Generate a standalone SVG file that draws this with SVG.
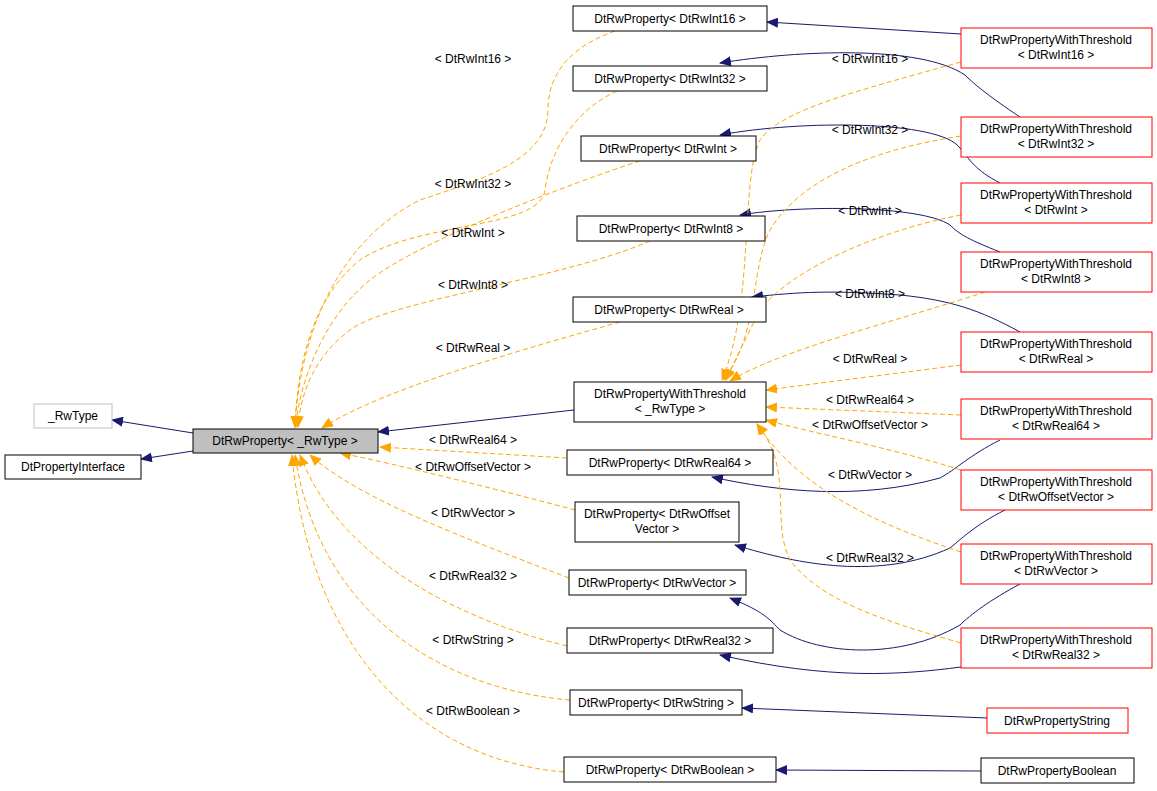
<svg xmlns="http://www.w3.org/2000/svg" width="1157" height="791" viewBox="0 0 1157 791">
<style>
text{font-family:"Liberation Sans",Arial,sans-serif;font-size:12px;fill:#000;text-anchor:middle}
.n{fill:#fff;stroke:#000;stroke-width:1}
.r{fill:#fff;stroke:#ff0000;stroke-width:1}
.g{fill:#fff;stroke:#bfbfbf;stroke-width:1}
.e{fill:none;stroke:#191970;stroke-width:1;marker-end:url(#na)}
.o{fill:none;stroke:#ffa500;stroke-width:1;stroke-dasharray:5,3;marker-end:url(#oa)}
</style>
<defs>
<marker id="na" markerWidth="12" markerHeight="10" refX="11" refY="5" orient="auto" markerUnits="userSpaceOnUse"><path d="M0,0 L12,5 L0,10 Z" fill="#191970"/></marker>
<marker id="oa" markerWidth="12" markerHeight="10" refX="11" refY="5" orient="auto" markerUnits="userSpaceOnUse"><path d="M0,0 L12,5 L0,10 Z" fill="#ffa500"/></marker>
</defs>
<rect width="1157" height="791" fill="#fff"/>
<g id="connectors">
<path class="e" d="M193,433 L112,420"/>
<path class="e" d="M193,451 L141,459"/>
<path class="e" d="M574,410 L378,432"/>
<path class="e" d="M961,34 L767,22"/>
<path class="e" d="M1020,117 C990,97 975,85 965,75 C920,45 800,50 720,63"/>
<path class="e" d="M1000,183 C975,170 970,160 960,148 C940,120 800,120 720,135"/>
<path class="e" d="M1000,252 C970,240 960,235 950,225 C920,205 800,205 740,215"/>
<path class="e" d="M1020,332 C980,310 950,300 900,295 C830,290 800,292 752,297"/>
<path class="e" d="M1000,440 C970,455 955,470 940,478 C860,500 780,492 712,477"/>
<path class="e" d="M1005,510 C975,525 960,540 950,548 C880,580 800,565 735,545"/>
<path class="e" d="M1020,584 C990,600 970,615 960,625 C900,660 820,655 780,630 C770,620 765,612 730,598"/>
<path class="e" d="M961,667 C900,675 830,680 720,655"/>
<path class="e" d="M987,718 L742,708"/>
<path class="e" d="M981,771 L776,770"/>
<path class="o" d="M615,31 C575,45 548,70 548,110 C548,160 480,180 420,200 C340,240 300,330 295,427"/>
<path class="o" d="M617,91 C575,110 550,150 545,190 C540,230 420,220 360,260 C310,300 297,370 295,427"/>
<path class="o" d="M640,161 C580,180 420,240 370,280 C320,320 298,390 296,427"/>
<path class="o" d="M650,241 C560,280 390,300 350,330 C310,360 300,400 298,427"/>
<path class="o" d="M620,322 C520,350 380,390 322,428"/>
<path class="o" d="M567,458 L380,447"/>
<path class="o" d="M575,510 C500,490 400,465 340,453"/>
<path class="o" d="M569,578 C470,540 360,500 310,455"/>
<path class="o" d="M567,646 C460,620 340,560 300,455"/>
<path class="o" d="M570,700 C450,690 320,620 295,455"/>
<path class="o" d="M564,772 C420,760 310,650 292,455"/>
<path class="o" d="M961,62 C860,90 780,110 760,140 C740,180 755,300 722,380"/>
<path class="o" d="M961,136 C870,150 800,180 770,230 C750,270 760,330 724,380"/>
<path class="o" d="M961,215 C880,230 790,270 760,310 C745,340 735,360 726,380"/>
<path class="o" d="M985,292 C900,320 780,350 730,381"/>
<path class="o" d="M961,365 L766,390"/>
<path class="o" d="M961,415 L766,407"/>
<path class="o" d="M961,470 C880,445 820,435 766,420"/>
<path class="o" d="M961,552 C880,525 800,490 757,424"/>
<path class="o" d="M961,643 C880,620 820,600 790,560 C770,520 795,470 757,424"/>
</g>
<g id="labels">
<text x="473" y="63">&lt; DtRwInt16 &gt;</text>
<text x="473" y="188">&lt; DtRwInt32 &gt;</text>
<text x="473" y="237">&lt; DtRwInt &gt;</text>
<text x="473" y="289">&lt; DtRwInt8 &gt;</text>
<text x="473" y="352">&lt; DtRwReal &gt;</text>
<text x="473" y="444">&lt; DtRwReal64 &gt;</text>
<text x="473" y="471">&lt; DtRwOffsetVector &gt;</text>
<text x="473" y="517">&lt; DtRwVector &gt;</text>
<text x="473" y="580">&lt; DtRwReal32 &gt;</text>
<text x="473" y="644">&lt; DtRwString &gt;</text>
<text x="473" y="715">&lt; DtRwBoolean &gt;</text>
<text x="870" y="63">&lt; DtRwInt16 &gt;</text>
<text x="870" y="134">&lt; DtRwInt32 &gt;</text>
<text x="870" y="215">&lt; DtRwInt &gt;</text>
<text x="870" y="298">&lt; DtRwInt8 &gt;</text>
<text x="870" y="363">&lt; DtRwReal &gt;</text>
<text x="870" y="404">&lt; DtRwReal64 &gt;</text>
<text x="870" y="429">&lt; DtRwOffsetVector &gt;</text>
<text x="870" y="479">&lt; DtRwVector &gt;</text>
<text x="870" y="562">&lt; DtRwReal32 &gt;</text>
</g>
<g id="rwtype"><rect class="g" x="34" y="404" width="78" height="24"/><text x="73" y="420">_RwType</text></g>
<g id="dtpropif"><rect class="n" x="5" y="455" width="136" height="24"/><text x="73" y="471">DtPropertyInterface</text></g>
<g id="base"><rect x="193" y="429" width="185" height="24" fill="#bfbfbf" stroke="#000"/><text x="285" y="445">DtRwProperty&lt; _RwType &gt;</text></g>
<g id="p_int16"><rect class="n" x="573" y="6" width="194" height="25"/><text x="670" y="23">DtRwProperty&lt; DtRwInt16 &gt;</text></g>
<g id="p_int32"><rect class="n" x="573" y="66" width="194" height="25"/><text x="670" y="83">DtRwProperty&lt; DtRwInt32 &gt;</text></g>
<g id="p_int"><rect class="n" x="581" y="136" width="175" height="25"/><text x="668" y="153">DtRwProperty&lt; DtRwInt &gt;</text></g>
<g id="p_int8"><rect class="n" x="577" y="216" width="188" height="25"/><text x="671" y="233">DtRwProperty&lt; DtRwInt8 &gt;</text></g>
<g id="p_real"><rect class="n" x="573" y="297" width="193" height="25"/><text x="669" y="314">DtRwProperty&lt; DtRwReal &gt;</text></g>
<g id="wt_base"><rect class="n" x="574" y="382" width="192" height="40"/><text x="670" y="398">DtRwPropertyWithThreshold</text><text x="670" y="413">&lt; _RwType &gt;</text></g>
<g id="p_real64"><rect class="n" x="567" y="450" width="206" height="25"/><text x="670" y="467">DtRwProperty&lt; DtRwReal64 &gt;</text></g>
<g id="p_offset"><rect class="n" x="575" y="502" width="164" height="40"/><text x="657" y="518">DtRwProperty&lt; DtRwOffset</text><text x="657" y="533">Vector &gt;</text></g>
<g id="p_vector"><rect class="n" x="569" y="570" width="177" height="25"/><text x="657" y="587">DtRwProperty&lt; DtRwVector &gt;</text></g>
<g id="p_real32"><rect class="n" x="567" y="628" width="206" height="25"/><text x="670" y="645">DtRwProperty&lt; DtRwReal32 &gt;</text></g>
<g id="p_string"><rect class="n" x="570" y="690" width="172" height="25"/><text x="656" y="707">DtRwProperty&lt; DtRwString &gt;</text></g>
<g id="p_bool"><rect class="n" x="564" y="757" width="212" height="25"/><text x="670" y="774">DtRwProperty&lt; DtRwBoolean &gt;</text></g>
<g id="wt_int16"><rect class="r" x="961" y="28" width="191" height="40"/><text x="1056" y="44">DtRwPropertyWithThreshold</text><text x="1056" y="59">&lt; DtRwInt16 &gt;</text></g>
<g id="wt_int32"><rect class="r" x="961" y="117" width="191" height="40"/><text x="1056" y="133">DtRwPropertyWithThreshold</text><text x="1056" y="148">&lt; DtRwInt32 &gt;</text></g>
<g id="wt_int"><rect class="r" x="961" y="183" width="191" height="40"/><text x="1056" y="199">DtRwPropertyWithThreshold</text><text x="1056" y="214">&lt; DtRwInt &gt;</text></g>
<g id="wt_int8"><rect class="r" x="961" y="252" width="191" height="40"/><text x="1056" y="268">DtRwPropertyWithThreshold</text><text x="1056" y="283">&lt; DtRwInt8 &gt;</text></g>
<g id="wt_real"><rect class="r" x="961" y="332" width="191" height="40"/><text x="1056" y="348">DtRwPropertyWithThreshold</text><text x="1056" y="363">&lt; DtRwReal &gt;</text></g>
<g id="wt_real64"><rect class="r" x="961" y="399" width="191" height="40"/><text x="1056" y="415">DtRwPropertyWithThreshold</text><text x="1056" y="430">&lt; DtRwReal64 &gt;</text></g>
<g id="wt_offset"><rect class="r" x="961" y="470" width="191" height="40"/><text x="1056" y="486">DtRwPropertyWithThreshold</text><text x="1056" y="501">&lt; DtRwOffsetVector &gt;</text></g>
<g id="wt_vector"><rect class="r" x="961" y="544" width="191" height="40"/><text x="1056" y="560">DtRwPropertyWithThreshold</text><text x="1056" y="575">&lt; DtRwVector &gt;</text></g>
<g id="wt_real32"><rect class="r" x="961" y="628" width="191" height="40"/><text x="1056" y="644">DtRwPropertyWithThreshold</text><text x="1056" y="659">&lt; DtRwReal32 &gt;</text></g>
<g id="pstring"><rect class="r" x="987" y="708" width="141" height="25"/><text x="1057" y="725">DtRwPropertyString</text></g>
<g id="pbool"><rect class="n" x="981" y="758" width="153" height="25"/><text x="1057" y="775">DtRwPropertyBoolean</text></g>
</svg>
